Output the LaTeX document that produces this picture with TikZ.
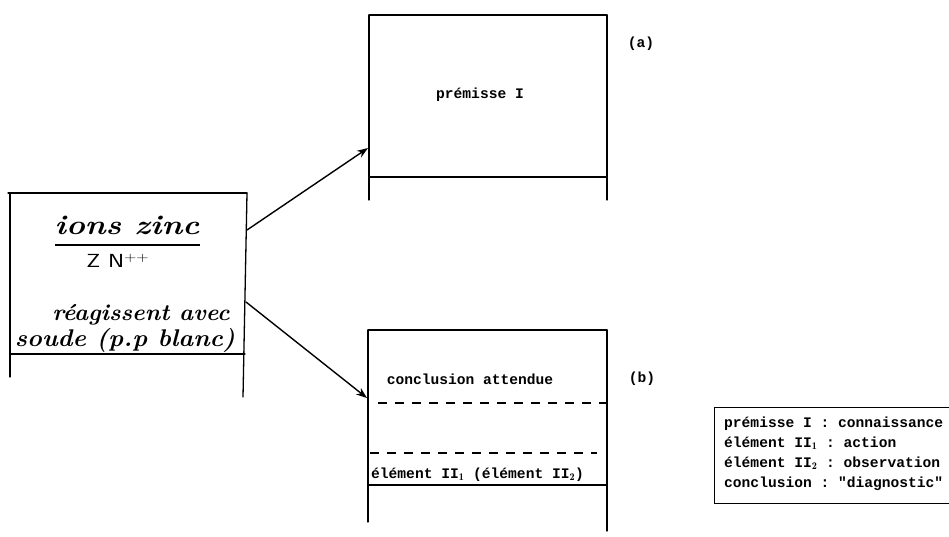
\documentclass[tikz,border=0pt]{standalone}
\usepackage{fontspec}
\setmonofont{Liberation Mono}
\usetikzlibrary{arrows.meta}
\tikzset{
  frame/.style={line width=1.3pt, line cap=round},
  sepline/.style={line width=1.3pt, dash pattern=on 9pt off 8pt},
  conn/.style={line width=1.4pt, -{Stealth[length=11pt,width=8pt]}},
  tw/.style={font=\ttfamily\bfseries\fontsize{14.6}{20}\selectfont, inner sep=0pt},
  hand/.style={font=\bfseries\itshape\fontsize{21}{25}\selectfont, inner sep=0pt},
}
\begin{document}
\begin{tikzpicture}[x=1pt,y=-1pt]
\useasboundingbox (0,0) rectangle (949,536);
% left box
\draw[frame] (8,193) -- (247,193);
\draw[frame] (10,193) -- (10,377);
\draw[frame] (247,193) -- (243,397);
\draw[frame] (10,354) -- (245,354);
\node[hand] (ions) at (127,225) {\scalebox{1.52}[1.3]{ions zinc}};
\draw[line width=1.5pt] (55,245) -- (200,245);
\node[inner sep=0pt, font=\sffamily\fontsize{18}{20}\selectfont] (zn) at (118,261) {\scalebox{1.35}[1.05]{Z N$^{++}$}};
\node[hand] (reag) at (141,315) {\scalebox{1.13}[1.1]{réagissent avec}};
\node[hand] (soude) at (125,340) {\scalebox{1.2}[1.15]{soude (p.p blanc)}};
% box (a)
\draw[frame] (369,15) -- (607,15);
\draw[frame] (369,15) -- (369,200);
\draw[frame] (607,15) -- (607,200);
\draw[frame] (369,177) -- (607,177);
\node[tw] (prem) at (480,95) {prémisse I};
\node[tw] (la) at (641,44) {(a)};
% box (b)
\draw[frame] (368,330) -- (607,330);
\draw[frame] (368,330) -- (368,522);
\draw[frame] (607,330) -- (607,531);
\draw[frame] (368,485) -- (607,485);
\draw[sepline] (378,403) -- (607,403);
\draw[sepline] (370,453) -- (597,453);
\node[tw] (concl) at (470,379) {conclusion attendue};
\node[tw, anchor=west] (elem) at (371,475) {élément II$_{\mathbf{1}}$ (élément II$_{\mathbf{2}}$)};
\node[tw] (lb) at (642,379) {(b)};
% arrows
\coordinate (la1) at (247,230);
\coordinate (lb1) at (246,302);
\coordinate (ta) at (368,148);
\coordinate (tb) at (367,398);
\draw[conn] (la1) -- (ta);
\draw[conn] (lb1) -- (tb);
% legend
\node[draw, line width=1.3pt, minimum width=240pt, minimum height=96pt, anchor=north west] (legbox) at (714,407) {};
\node[tw, anchor=north west, align=left] (legtext) at (724,417) {prémisse I : connaissance\\élément II$_{\mathbf{1}}$ : action\\élément II$_{\mathbf{2}}$ : observation\\conclusion : "diagnostic"};
\end{tikzpicture}
\end{document}
